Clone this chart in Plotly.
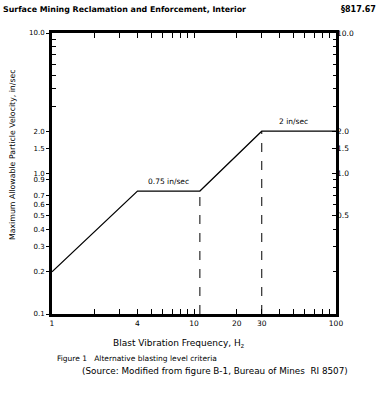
import plotly.graph_objects as go

# Data
freq = [1, 4, 11, 30, 100]
velocity = [0.2, 0.75, 0.75, 2.0, 2.0]
dash1_x = [11, 11]
dash1_y = [0.1, 0.75]
dash2_x = [30, 30]
dash2_y = [0.1, 2.0]

x_tickvals = [1, 4, 10, 20, 30, 100]
x_ticktext = ["1", "4", "10", "20", "30", "100"]
x_minor = [2, 3, 5, 6, 7, 8, 9, 40, 50, 60, 70, 80, 90]

yl_tickvals = [10, 2, 1.5, 1, 0.9, 0.7, 0.6, 0.5, 0.4, 0.3, 0.2, 0.1]
yl_ticktext = ["10.0", "2.0", "1.5", "1.0", "0.9", "0.7", "0.6", "0.5", "0.4", "0.3", "0.2", "0.1"]
yr_tickvals = [10, 2, 1.5, 1, 0.5]
yr_ticktext = ["10.0", "2.0", "1.5", "1.0", "0.5"]
y_minor = [3, 4, 5, 6, 7, 8, 9]

FONT = "DejaVu Sans"
BLACK = "black"

fig = go.Figure()
fig.add_trace(go.Scatter(x=freq, y=velocity, mode="lines",
                         line=dict(color=BLACK, width=1.2), showlegend=False, hoverinfo="skip"))
fig.add_trace(go.Scatter(x=dash1_x, y=dash1_y, mode="lines",
                         line=dict(color=BLACK, width=1, dash="dash"), showlegend=False, hoverinfo="skip"))
fig.add_trace(go.Scatter(x=dash2_x, y=dash2_y, mode="lines",
                         line=dict(color=BLACK, width=1, dash="dash"), showlegend=False, hoverinfo="skip"))
fig.add_trace(go.Scatter(x=[1], y=[1], yaxis="y2", mode="markers", opacity=0,
                         showlegend=False, hoverinfo="skip"))

fig.update_layout(
    width=380, height=402,
    margin=dict(l=52, r=44, t=33, b=88),
    paper_bgcolor="white", plot_bgcolor="white",
    font=dict(family=FONT, size=8, color=BLACK),
    xaxis=dict(type="log", range=[0, 2], showline=True, linewidth=3, linecolor=BLACK,
               mirror="allticks", showgrid=False, zeroline=False,
               tickmode="array", tickvals=x_tickvals, ticktext=x_ticktext,
               ticks="inside", ticklen=5, tickwidth=1, tickcolor=BLACK,
               minor=dict(tickmode="array", tickvals=x_minor, ticks="inside", ticklen=3,
                          tickwidth=1, tickcolor=BLACK, showgrid=False),
               tickfont=dict(size=7.5)),
    yaxis=dict(type="log", range=[-1, 1], showline=True, linewidth=3, linecolor=BLACK,
               mirror=True, showgrid=False, zeroline=False,
               tickmode="array", tickvals=yl_tickvals, ticktext=yl_ticktext,
               ticks="outside", ticklen=3, tickwidth=1, tickcolor=BLACK,
               minor=dict(tickmode="array", tickvals=y_minor, ticks="inside", ticklen=4,
                          tickwidth=1, tickcolor=BLACK, showgrid=False),
               tickfont=dict(size=7)),
    yaxis2=dict(type="log", range=[-1, 1], overlaying="y", side="right",
                showline=False, showgrid=False, zeroline=False,
                tickmode="array", tickvals=yr_tickvals, ticktext=yr_ticktext,
                ticks="inside", ticklen=4, tickwidth=1, tickcolor=BLACK,
                minor=dict(tickmode="array", tickvals=[3, 4, 5, 6, 7, 8, 9, 0.9, 0.8, 0.7, 0.6, 0.4, 0.3, 0.2],
                           ticks="inside", ticklen=3, tickwidth=1, tickcolor=BLACK, showgrid=False),
                tickfont=dict(size=7.5)),
)

def px_x(px):
    return (px - 52) / 284.0

def px_y(py):
    return (314 - py) / 281.0

anns = [
    dict(text="<b>Surface Mining Reclamation and Enforcement, Interior</b>", x=px_x(1), y=px_y(10),
         xanchor="left", yanchor="middle", font=dict(size=7.9)),
    dict(text="<b>§817.67</b>", x=px_x(378), y=px_y(10), xanchor="right", yanchor="middle",
         font=dict(size=8)),
    dict(text="Maximum Allowable Particle Velocity, in/sec", x=px_x(12), y=px_y(155), textangle=-90,
         xanchor="center", yanchor="middle", font=dict(size=7.8)),
    dict(text="Blast Vibration Frequency, H<sub>z</sub>", x=px_x(179), y=px_y(343),
         xanchor="center", yanchor="middle", font=dict(size=9)),
    dict(text="Figure 1   Alternative blasting level criteria", x=px_x(55), y=px_y(358),
         xanchor="left", yanchor="middle", font=dict(size=7.5)),
    dict(text="(Source: Modified from figure B-1, Bureau of Mines  RI 8507)", x=px_x(80), y=px_y(371),
         xanchor="left", yanchor="middle", font=dict(size=8.8)),
]
for a in anns:
    a.update(xref="paper", yref="paper", showarrow=False)
    fig.add_annotation(**a)

fig.add_annotation(x=0.82, y=-0.125, xref="x", yref="y", text="0.75 in/sec", showarrow=False,
                   yanchor="bottom", yshift=3, font=dict(size=7.5))
fig.add_annotation(x=1.70, y=0.301, xref="x", yref="y", text="2 in/sec", showarrow=False,
                   yanchor="bottom", yshift=3, font=dict(size=7.5))

fig.write_html("out.html", config={"displayModeBar": False},
               post_script="document.body.style.margin='0';document.body.style.overflow='hidden';")
